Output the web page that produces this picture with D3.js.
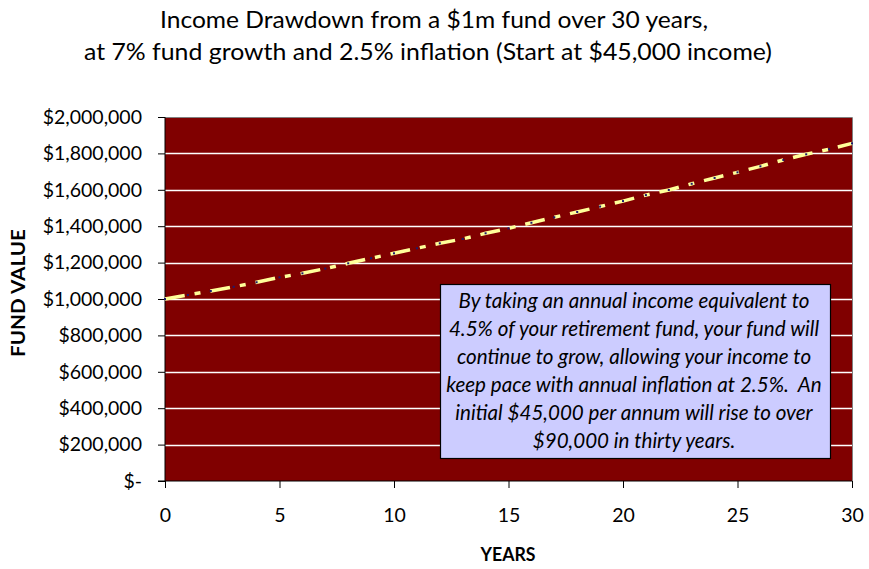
<!DOCTYPE html>
<html>
<head>
<meta charset="utf-8">
<script src="https://cdn.jsdelivr.net/npm/d3@7"></script>
<style>
  html, body { margin: 0; padding: 0; background: #fff; }
  svg { display: block; }
</style>
</head>
<body>
<svg id="chart" width="869" height="569"></svg>
<script>
// ---- data ----
const years = [0,1,2,3,4,5,6,7,8,9,10,11,12,13,14,15,16,17,18,19,20,21,22,23,24,25,26,27,28,29,30];
const fundValues = [1000000,1022000,1044000,1067000,1092000,1119000,1141000,1167000,1196000,1224000,1251000,1279000,1306000,1330000,1361000,1388000,1419000,1449000,1478000,1508000,1538000,1571000,1599000,1633000,1665000,1696000,1729000,1764000,1795000,1823000,1855000];
const yTicks = [0,200000,400000,600000,800000,1000000,1200000,1400000,1600000,1800000,2000000];
const xTicks = [0,5,10,15,20,25,30];
const titleLines = ["Income Drawdown from a $1m fund over 30 years,", "at 7% fund growth and 2.5% inflation (Start at $45,000 income)"];
const noteLines = [
  "By taking an annual income equivalent to",
  "4.5% of your retirement fund, your fund will",
  "continue to grow, allowing your income to",
  "keep pace with annual inflation at 2.5%.  An",
  "initial $45,000 per annum will rise to over",
  "$90,000 in thirty years."
];
const xLabel = "YEARS";
const yLabel = "FUND VALUE";

// ---- layout ----
const svg = d3.select("#chart");
const L = 165, R = 852, T = 117, B = 481;
const x = d3.scaleLinear().domain([0, 30]).range([L, R]);
const y = d3.scaleLinear().domain([0, 2000000]).range([B, T]);
const font = "Lato, 'Open Sans', sans-serif";

// title
const titleWidths = [548, 688];
const titleX = [434, 428];
svg.append("g").selectAll("text").data(titleLines).join("text")
  .attr("x", (d, i) => titleX[i]).attr("y", (d, i) => 28 + i * 32)
  .attr("text-anchor", "middle")
  .attr("font-family", font).attr("font-size", 23).attr("fill", "#000")
  .attr("textLength", (d, i) => titleWidths[i]).attr("lengthAdjust", "spacingAndGlyphs")
  .text(d => d);

// plot background
svg.append("rect").attr("x", L).attr("y", T).attr("width", R - L).attr("height", B - T)
  .attr("fill", "#800000");

// gridlines
svg.append("g").selectAll("line").data(yTicks.filter(v => v > 0 && v < 2000000)).join("line")
  .attr("x1", L).attr("x2", R)
  .attr("y1", d => Math.round(y(d)) + 0.5).attr("y2", d => Math.round(y(d)) + 0.5)
  .attr("stroke", "#fff").attr("stroke-width", 1.3);

// top/right border (gray)
svg.append("path")
  .attr("d", `M${L},${T + 0.5}H${R + 0.5}V${B}`)
  .attr("fill", "none").attr("stroke", "#808080").attr("stroke-width", 1);

// y axis
const yAxis = d3.axisLeft(y).tickValues(yTicks).tickSize(7).tickPadding(16)
  .tickFormat(d => d === 0 ? "$-" : "$" + d3.format(",")(d));
const gy = svg.append("g").attr("transform", `translate(${L},0)`).call(yAxis);
gy.selectAll("text").attr("font-family", font).attr("font-size", 19.5).attr("fill", "#000");
gy.selectAll("line,path").attr("stroke", "#000");
gy.select(".domain").attr("d", `M-7,${B}H0V${T}`);

// x axis
const xAxis = d3.axisBottom(x).tickValues(xTicks).tickSize(7).tickPadding(20).tickFormat(d3.format("d"));
const gx = svg.append("g").attr("transform", `translate(0,${B})`).call(xAxis);
gx.selectAll("text").attr("font-family", font).attr("font-size", 19.5).attr("fill", "#000");
gx.selectAll("line,path").attr("stroke", "#000");
gx.select(".domain").attr("d", `M${L},0H${R}`);

// axis titles
svg.append("text").attr("x", 508).attr("y", 561).attr("text-anchor", "middle")
  .attr("font-family", font).attr("font-weight", "bold").attr("font-size", 18)
  .attr("textLength", 55).attr("lengthAdjust", "spacingAndGlyphs")
  .text(xLabel);
svg.append("text").attr("transform", "translate(25,293) rotate(-90)").attr("text-anchor", "middle")
  .attr("font-family", font).attr("font-weight", "bold").attr("font-size", 18)
  .attr("textLength", 128).attr("lengthAdjust", "spacingAndGlyphs")
  .text(yLabel);

// line
const data = years.map((yr, i) => ({ yr, v: fundValues[i] }));
const line = d3.line().x(d => x(d.yr)).y(d => y(d.v));
svg.append("path").datum(data).attr("d", line)
  .attr("fill", "none").attr("stroke", "#FFFF99").attr("stroke-width", 3.5)
  .attr("stroke-dasharray", "20,10,6,10");

// markers
svg.append("g").selectAll("rect").data(data).join("rect")
  .attr("x", d => x(d.yr) - 1).attr("y", d => y(d.v) - 1)
  .attr("width", 2).attr("height", 2).attr("fill", "#1a1a70");

// annotation box
const bx = 440, by = 284, bw = 390, bh = 174;
svg.append("rect").attr("x", bx + 0.5).attr("y", by + 0.5).attr("width", bw).attr("height", bh)
  .attr("fill", "#CCCCFF").attr("stroke", "#000").attr("stroke-width", 1.2);
svg.append("g").selectAll("text").data(noteLines).join("text")
  .attr("x", 634).attr("y", (d, i) => 308 + i * 28)
  .attr("text-anchor", "middle")
  .attr("font-family", font).attr("font-style", "italic").attr("font-size", 20.6).attr("fill", "#000")
  .attr("xml:space", "preserve").style("white-space", "pre")
  .text(d => d);
</script>
</body>
</html>
